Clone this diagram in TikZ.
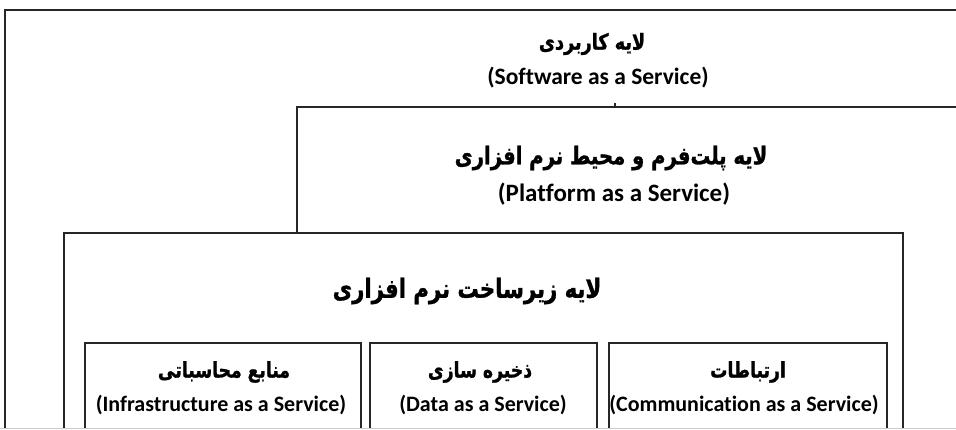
\documentclass[tikz,border=0pt]{standalone}
\usepackage{fontspec}
\setmainfont{Carlito}[Ligatures=NoCommon]
\newfontfamily\fa[Script=Arabic, FakeStretch=0.8, FakeBold=1.2]{DejaVu Sans}
\TeXXeTstate=1
\tikzset{
  layer/.style={draw=black!85, line width=2.5pt},
  cell/.style={draw=black!85, line width=2.9pt},
  fatext/.style={font=\fa\bfseries\fontsize{#1}{#1}\selectfont, inner sep=0pt, anchor=center},
  entext/.style={font=\bfseries\fontsize{#1}{#1}\selectfont, inner sep=0pt, anchor=center},
}
\begin{document}
\begin{tikzpicture}[x=1pt,y=-1pt]
\useasboundingbox (0,0) rectangle (956,430);
\fill[white] (0,0) rectangle (956,430);
\begin{scope}
\clip (0,0) rectangle (956,428);
\draw[layer] (5,10) rectangle (1000,480);
\draw[layer] (297,107) rectangle (1000,480);
\draw[line width=2pt, black!85] (615,103) -- (615,107);
\draw[layer, fill=white] (64,233) rectangle (903,480);
\draw[cell] (85,343) rectangle (361,480);
\draw[cell] (370,343) rectangle (597,480);
\draw[cell] (609,343) rectangle (887,480);
\end{scope}
\draw[black!20, line width=1pt] (0,428.5) -- (956,428.5);

\node[fatext=22] (saasfa) at (592,44) {\beginR لایه کاربردی\endR};
\node[entext=23.5] (saasen) at (598,78) {(Software as a Service)};
\node[fatext=24.5] (paasfa) at (611,158) {\beginR لایه پلت‌فرم و محیط نرم افزاری\endR};
\node[entext=25] (paasen) at (614,194) {(Platform as a Service)};
\node[fatext=26.5] (iaasfa) at (467,291) {\beginR لایه زیرساخت نرم افزاری\endR};
\node[fatext=21.5] (c1fa) at (224,372) {\beginR منابع محاسباتی\endR};
\node[entext=22] (c1en) at (221,405) {(Infrastructure as a Service)};
\node[fatext=21.5] (c2fa) at (480,372) {\beginR ذخیره سازی\endR};
\node[entext=22] (c2en) at (483,405) {(Data as a Service)};
\node[fatext=21.5] (c3fa) at (748,372) {\beginR ارتباطات\endR};
\node[entext=22] (c3en) at (744,405) {(Communication as a Service)};
\end{tikzpicture}
\end{document}
